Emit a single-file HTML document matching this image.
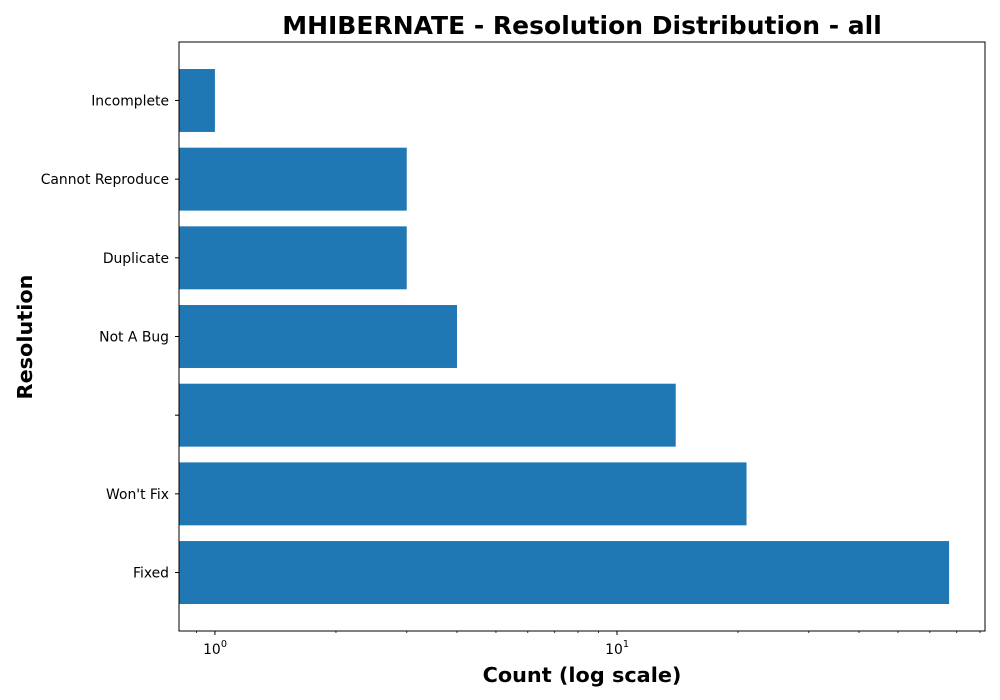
<!DOCTYPE html>
<html><head><meta charset="utf-8"><style>
html,body{margin:0;padding:0;background:#fff;}
svg{display:block;font-family:"DejaVu Sans","Liberation Sans",sans-serif;}
</style></head><body>
<svg id="chart" width="1000" height="700"></svg>
<script>
const categories = ["Incomplete","Cannot Reproduce","Duplicate","Not A Bug","","Won't Fix","Fixed"];
const counts = [1,3,3,4,14,21,67];
const majorTicks = [1,10];
const majorTickLabels = ["0","1"];

const NS="http://www.w3.org/2000/svg";
const svg=document.getElementById('chart');
const L=179,R=985,T=42,B=631;
const xmin=0.814,xmax=82.3;
function x(v){return L+(Math.log10(v)-Math.log10(xmin))/(Math.log10(xmax)-Math.log10(xmin))*(R-L);}
const n=categories.length;
const pad=27;
const bandH=0.8*(B-T-2*pad)/((n-1)+0.8);
const stp=bandH/0.8;
function yc(i){return T+pad+bandH/2+i*stp;}
function mk(tag,attrs,parent){const e=document.createElementNS(NS,tag);for(const k in attrs)e.setAttribute(k,attrs[k]);(parent||svg).appendChild(e);return e;}

for(let i=0;i<n;i++){
  const r=mk('rect',{x:L,y:yc(i)-bandH/2,width:x(counts[i])-L,height:bandH,fill:'#1f77b4'});
  
  
  mk('line',{x1:L-4,x2:L,y1:yc(i),y2:yc(i),stroke:'#000','stroke-width':1});
  const t=mk('text',{x:L-10,y:yc(i)+5,'text-anchor':'end','font-size':13.9});
  t.textContent=categories[i];
  
  
}
for(let d=0.1;d<=100;d*=10){for(let m=2;m<=9;m++){const v=m*d;if(v>xmin&&v<xmax){const xx=x(v);mk('line',{x1:xx,x2:xx,y1:B,y2:B+2,stroke:'#000','stroke-width':0.8});}}}
majorTicks.forEach((v,i)=>{
  const xx=x(v);
  mk('line',{x1:xx,x2:xx,y1:B,y2:B+4,stroke:'#000','stroke-width':1});
  const t=mk('text',{x:xx-3,y:B+23,'text-anchor':'middle','font-size':13.9});
  t.textContent='10';
  
  
  const s=mk('text',{x:xx+9,y:B+16,'text-anchor':'middle','font-size':9.7});
  s.textContent=majorTickLabels[i];
});
const fr=mk('rect',{x:L,y:T,width:R-L,height:B-T,fill:'none',stroke:'#000','stroke-width':1});


const title=mk('text',{x:582,y:34,'text-anchor':'middle','font-size':25,'font-weight':'bold'});
title.textContent='MHIBERNATE - Resolution Distribution - all';


const xl=mk('text',{x:582,y:682,'text-anchor':'middle','font-size':20.8,'font-weight':'bold'});
xl.textContent='Count (log scale)';


const yl=mk('text',{x:0,y:0,'text-anchor':'middle','font-size':20.8,'font-weight':'bold',transform:'translate(32,337) rotate(-90)'});
yl.textContent='Resolution';


</script>
</body></html>
